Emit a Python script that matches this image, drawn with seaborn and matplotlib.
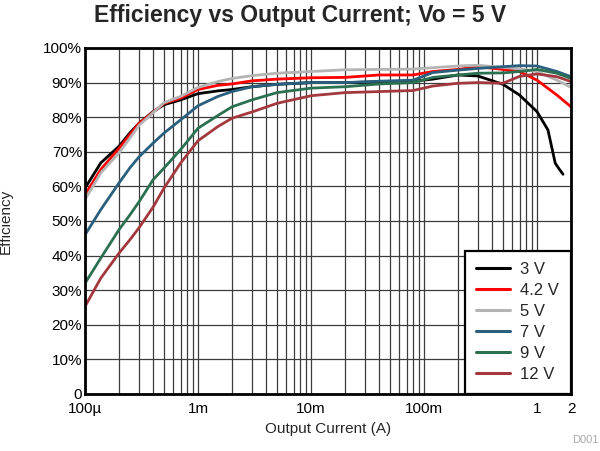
import numpy as np
import pandas as pd
import matplotlib
matplotlib.use("Agg")
import matplotlib.pyplot as plt
import matplotlib.ticker as mticker
import seaborn as sns

# output current (A)
current = [1e-4, 1.38e-4, 2e-4, 2.5e-4, 3e-4, 4e-4, 5e-4, 7e-4, 1e-3, 1.5e-3, 2e-3,
           3e-3, 5e-3, 1e-2, 2e-2, 4e-2, 8e-2, 1.2e-1, 2e-1, 3e-1, 5e-1, 7e-1,
           1.0, 1.5, 2.0]
current_3v = [1e-4, 1.38e-4, 2e-4, 2.5e-4, 3e-4, 4e-4, 5e-4, 7e-4, 1e-3, 1.5e-3, 2e-3,
              3e-3, 5e-3, 1e-2, 2e-2, 4e-2, 8e-2, 1.2e-1, 2e-1, 3e-1, 5e-1, 7e-1,
              1.0, 1.25, 1.45, 1.55, 1.7]

eff_3v = [59.5, 66.8, 71.6, 75.5, 78.2, 81.6, 83.6, 85, 86.8, 87.6, 88,
          88.8, 89.5, 90, 90, 90.2, 90.4, 91, 92.2, 91.9, 89.5, 86.4,
          81.6, 76.3, 66.7, 65.3, 63.5]
eff_4v2 = [57.6, 64.9, 71, 75, 78.2, 81.4, 84, 85.5, 88, 89.2, 89.6,
           90.5, 91, 91.4, 91.5, 92.2, 92.2, 93.2, 93.8, 94.6, 93.8, 93.2,
           90.7, 86.4, 83]
eff_5v = [56.2, 63.9, 69.7, 74, 77.6, 81.3, 84.2, 86, 88.6, 90.3, 91.2,
          92, 92.7, 93.2, 93.7, 93.8, 93.9, 94.3, 94.8, 95, 94.4, 94,
          93.2, 90.7, 88.6]
eff_7v = [46, 53.3, 61, 65.4, 68.5, 72.5, 75.4, 79.2, 83.3, 86, 87.4,
          88.8, 89.5, 90, 90, 90.4, 90.7, 92.9, 93.6, 94.1, 94.6, 94.9,
          94.8, 93.2, 91.7]
eff_9v = [32, 39.3, 47.5, 51.8, 55.5, 61.9, 65.3, 70.6, 76.8, 80.5, 83,
          85, 87.1, 88.4, 88.8, 89.6, 90, 91.5, 92.2, 92.7, 92.8, 93.2,
          93.8, 92.7, 91.2]
eff_12v = [25.3, 33.5, 40.7, 44.6, 48, 54, 59.5, 66.7, 73.2, 77.3, 79.7,
           81.5, 84, 86.2, 87.1, 87.4, 87.7, 89, 89.8, 90, 89.8, 91.8,
           92.5, 91.7, 90.3]

labels = ["3 V", "4.2 V", "5 V", "7 V", "9 V", "12 V"]
colors = ["#000000", "#ff0000", "#b4b4b4", "#2a5f7e", "#2b7050", "#a3393f"]

sns.set_style("white")
plt.rcParams["font.family"] = ["Liberation Sans", "DejaVu Sans"]

fig = plt.figure(figsize=(6.0, 4.51), dpi=100)
ax = fig.add_axes([0.1417, 0.1264, 0.81, 0.7672])

series = [(current_3v, eff_3v), (current, eff_4v2), (current, eff_5v),
          (current, eff_7v), (current, eff_9v), (current, eff_12v)]
for (xs, ys), lab, col in zip(series, labels, colors):
    df = pd.DataFrame({"I": xs, "eff": ys})
    sns.lineplot(data=df, x="I", y="eff", ax=ax, color=col, linewidth=2.0,
                 label=lab, sort=False)

ax.set_xscale("log")
ax.set_xlim(1e-4, 2)
ax.set_ylim(0, 100)

ax.xaxis.set_major_locator(mticker.FixedLocator([1e-4, 1e-3, 1e-2, 1e-1, 1, 2]))
ax.xaxis.set_major_formatter(mticker.FixedFormatter(["100µ", "1m", "10m", "100m", "1", "2"]))
ax.xaxis.set_minor_locator(mticker.LogLocator(base=10, subs=np.arange(2, 10)))
ax.xaxis.set_minor_formatter(mticker.NullFormatter())
ax.set_yticks(np.arange(0, 101, 10))
ax.set_yticklabels(["0"] + [f"{v}%" for v in range(10, 101, 10)])

ax.grid(True, which="major", color="#3c3c3c", linewidth=0.9)
ax.grid(True, which="minor", axis="x", color="#3c3c3c", linewidth=0.9)
ax.set_axisbelow(True)
ax.tick_params(axis="both", which="both", length=0, labelsize=11, colors="black")
ax.tick_params(axis="y", pad=2)
ax.tick_params(axis="x", pad=6)
for sp in ax.spines.values():
    sp.set_color("black")
    sp.set_linewidth(2)

ax.set_xlabel("Output Current (A)", fontsize=11, labelpad=4)
ax.set_ylabel("Efficiency", fontsize=11)
ax.yaxis.set_label_coords(-0.148, 0.5)

leg = ax.legend(loc="lower right", fontsize=12, frameon=True, fancybox=False,
                borderaxespad=0, handlelength=2.05, labelspacing=0.36,
                borderpad=0.7, handletextpad=0.6)
leg.get_frame().set_edgecolor("black")
leg.get_frame().set_linewidth(1.6)
leg.get_frame().set_alpha(1)
for h in leg.get_lines():
    h.set_linewidth(2.2)

fig.text(0.5, 0.965, "Efficiency vs Output Current; Vo = 5 V", ha="center",
         va="center", fontsize=16.5, fontweight="bold")
fig.text(0.997, 0.024, "D001", ha="right", va="center", fontsize=8, color="#a8a8a8")

fig.savefig("out.png", dpi=100)
